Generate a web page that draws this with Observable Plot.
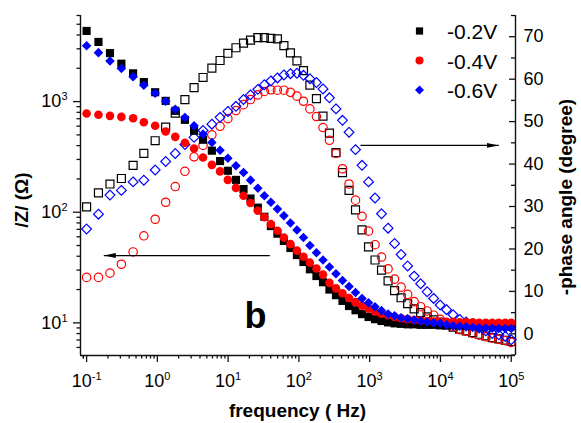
<!DOCTYPE html>
<html>
<head>
<meta charset="utf-8">
<script src="https://cdn.jsdelivr.net/npm/d3@7"></script>
<script src="https://cdn.jsdelivr.net/npm/@observablehq/plot@0.6"></script>
<style>
  body { margin: 0; background: #fff; }
  #chart { position: relative; width: 581px; height: 423px; font-family: "Liberation Sans", Arial, sans-serif; color: #000; }
  #chart svg { position: absolute; left: 0; top: 0; }
</style>
</head>
<body>
<div id="chart"></div>
<script>
// ---------- data ----------
const freq = [0.1, 0.147, 0.214, 0.31, 0.454, 0.644, 0.931, 1.31, 1.79, 2.45, 3.3, 4.42, 5.89, 7.69, 9.91,
  12.9, 16.5, 20.7, 26.3, 32.5, 40.2, 49.7, 61.4, 75.9, 93.8, 116, 143, 177, 219, 270, 334, 413, 511, 631,
  780, 964, 1190, 1470, 1820, 2250, 2780, 3440, 4250, 5250, 6490, 8020, 9910, 12200, 15100, 18700, 23100,
  28600, 35300, 43700, 54000, 66700, 82400, 100000];

const seriesNames = ["-0.2V", "-0.4V", "-0.6V"];
const seriesColors = ["#000000", "#ff0000", "#0000ff"];
const seriesSymbols = ["square", "circle", "diamond2"];

// |Z| (ohm), filled symbols, left axis
const zNeg02 = [4350, 3460, 2740, 2200, 1800, 1500, 1215, 1015, 825, 684, 545, 452, 360, 290, 237, 196, 162, 133,
  110, 91, 75, 64, 55, 47.5, 41, 35.5, 30.5, 26.5, 23.3, 20, 17.8, 15.8, 14.2, 13.0, 12.0, 11.3, 10.8, 10.4,
  10.1, 9.9, 9.8, 9.7, 9.7, 9.6, 9.6, 9.6, 9.5, 9.5, 9.5, 9.5, 9.4, 9.4, 9.4, 9.4, 9.3, 9.3, 9.3, 9.3];
const zNeg04 = [780, 760, 743, 727, 708, 650, 605, 536, 480, 425, 377, 312, 268, 234, 196, 166, 141, 121, 103,
  90, 78, 68, 59, 51.5, 45, 39.6, 35, 31, 27.3, 23, 20.5, 18.5, 16.8, 15.4, 14.3, 13.4, 12.7, 12.1, 11.7, 11.3,
  11.0, 10.8, 10.6, 10.5, 10.4, 10.3, 10.3, 10.2, 10.2, 10.1, 10.1, 10.1, 10.0, 10.0, 10.0, 10.0, 10.0, 10.0];
const zNeg06 = [3200, 2770, 2330, 1990, 1680, 1405, 1190, 1008, 854, 717, 604, 508, 427, 364, 308, 263, 229, 195,
  165, 141, 123, 107, 93, 80, 69, 59, 50, 43, 37, 32, 27.8, 24.1, 21.3, 18.8, 16.6, 15.2, 14.0, 12.9, 12.0,
  11.6, 11.1, 10.9, 10.6, 10.4, 10.2, 10.0, 9.9, 9.6, 9.4, 9.3, 9.2, 9.1, 9.05, 9.0, 8.95, 8.9, 8.9, 8.9];

// -phase angle (degree), open symbols, right axis
const phaseNeg02 = [29.9, 33.2, 35.3, 36.6, 39.7, 42.5, 45.5, 48.7, 52.0, 55.2, 58.0, 60.4, 62.6, 64.4, 66.1,
  67.4, 68.5, 69.2, 69.8, 69.8, 69.6, 69.5, 67.9, 66.2, 64.3, 62.0, 58.6, 55.4, 51.3, 47.3, 42.7, 38.0, 33.8,
  29.2, 24.5, 20.5, 17.4, 15.0, 12.5, 10.2, 8.5, 7.1, 5.9, 5.0, 4.0, 3.3, 2.7, 2.1, 1.6, 1.1, 0.7, 0.3, -0.1,
  -0.5, -0.9, -1.2, -1.5, -1.8];
const phaseNeg04 = [13.3, 13.3, 14.3, 16.4, 19.3, 23.1, 27.0, 31.0, 34.7, 38.3, 41.7, 44.4, 46.9, 48.9, 50.7,
  52.6, 54.0, 55.2, 56.3, 57.1, 57.5, 57.4, 57.4, 56.9, 56.0, 54.8, 53.0, 51.2, 48.6, 45.6, 42.5, 38.9, 35.3,
  31.5, 27.7, 24.2, 21.0, 18.1, 15.3, 12.9, 11.0, 9.3, 7.6, 6.4, 5.4, 4.4, 3.4, 2.4, 1.7, 1.0, 0.6, 0.1, -0.3,
  -0.7, -1.0, -1.3, -1.6, -2.0];
const phaseNeg06 = [24.7, 28.2, 32.7, 33.8, 35.8, 36.2, 38.6, 40.6, 42.5, 44.6, 46.3, 47.9, 49.4, 51.0, 52.4,
  53.6, 55.2, 56.3, 57.6, 58.7, 59.6, 60.3, 61.0, 61.3, 61.4, 60.9, 60.1, 59.2, 57.7, 55.6, 53.0, 50.3, 47.5,
  43.4, 39.7, 35.8, 32.0, 28.3, 24.9, 21.3, 18.7, 16.0, 13.6, 11.8, 9.9, 8.35, 6.8, 5.7, 4.5, 3.4, 2.8, 2.1,
  1.4, 0.7, 0.1, -0.2, -0.6, -1.4];

// axes
const xDomain = [0.082, 115000];
const zDomain = [5.07, 6000];
const phaseDomain = [-5.1, 75];
const xTicksMajor = [0.1, 1, 10, 100, 1000, 10000, 100000];
const zTicksMajor = [10, 100, 1000];
const phaseTicksMajor = [0, 10, 20, 30, 40, 50, 60, 70];
const phaseTicksMinor = [-5, 5, 15, 25, 35, 45, 55, 65, 75];
const xTitle = "frequency ( Hz)";
const zTitle = "/Z/ (\u03A9)";
const phaseTitle = "-phase angle (degree)";
const panelLetter = "b";

// annotation arrows (data units)
const arrowZ = [{f1: 38.8, f2: 0.175, v: 40.6}];
const arrowPhase = [{f1: 741, f2: 66800, v: 44.4}];
const letterPos = [{f: 24.4, v: 9.08, t: panelLetter}];

(function () {
// minor log ticks
function logMinor(lo, hi) {
  const out = [];
  for (let e = -2; e <= 5; e++) for (let k = 2; k <= 9; k++) {
    const v = k * Math.pow(10, e);
    if (v >= lo && v <= hi) out.push(v);
  }
  return out;
}
const xTicksMinor = logMinor(xDomain[0], xDomain[1]).concat([0.09]);
const zTicksMinor = logMinor(zDomain[0], zDomain[1] * 1.001);

// ---------- layout ----------
const W = 581, H = 423;
const M = {marginLeft: 80, marginRight: 66, marginTop: 15, marginBottom: 68};
const FONT = '"Liberation Sans", Arial, sans-serif';
const ink = "#111";

const rows = vals => freq.map((f, i) => ({f, v: vals[i]}));
const zSeries = [zNeg02, zNeg04, zNeg06];
const phaseSeries = [phaseNeg02, phaseNeg04, phaseNeg06];
const filledR = [4.6, 4.3, 4.3];
const openR = [4.5, 4.2, 4.4];
const pow10 = d => `10^${Math.round(Math.log10(d))}`;

// bottom layer: phase (linear right axis), open symbols
const phasePlot = Plot.plot({
  width: W, height: H, ...M,
  style: {background: "transparent", fontFamily: FONT, fontSize: "18px", color: ink},
  x: {type: "log", domain: xDomain, axis: null},
  y: {domain: phaseDomain, label: null},
  marks: [
    Plot.ruleX([xDomain[1]], {stroke: ink, strokeWidth: 1.4}),
    Plot.tickY(phaseTicksMajor, {y: d => d, insetLeft: 429, stroke: ink, strokeWidth: 1.3}),
    Plot.tickY(phaseTicksMinor, {y: d => d, insetLeft: 431, stroke: ink, strokeWidth: 1.3}),
    Plot.axisY(phaseTicksMajor, {anchor: "right", tickSize: 0, tickPadding: 8, label: null, fontSize: 18, fill: "#000"}),
    ...phaseSeries.map((s, i) => Plot.dot(rows(s), {
      x: "f", y: "v", symbol: seriesSymbols[i], r: openR[i], fill: "none",
      stroke: seriesColors[i], strokeWidth: 1.2
    })),
    Plot.link(arrowPhase, {x1: "f1", x2: "f2", y1: "v", y2: "v", stroke: "#000", strokeWidth: 1.2})
  ]
});

// top layer: |Z| (log left axis), filled symbols, x axis
const zPlot = Plot.plot({
  width: W, height: H, ...M,
  style: {background: "transparent", fontFamily: FONT, fontSize: "18px", color: ink},
  x: {type: "log", domain: xDomain, label: null},
  y: {type: "log", domain: zDomain, label: null},
  marks: [
    Plot.ruleX([xDomain[0]], {stroke: ink, strokeWidth: 1.4}),
    Plot.ruleY([zDomain[0]], {stroke: ink, strokeWidth: 1.4}),
    Plot.axisX(xTicksMajor, {tickSize: 7, tickPadding: 12, tickFormat: pow10, label: null, fontSize: 18, strokeWidth: 1.3, fill: "#000"}),
    Plot.axisX(xTicksMinor, {tickSize: 3.5, fill: "none", label: null, strokeWidth: 1.3}),
    Plot.axisY(zTicksMajor, {anchor: "left", tickSize: 7, tickPadding: 6, tickFormat: pow10, label: null, fontSize: 18, strokeWidth: 1.3, fill: "#000"}),
    Plot.axisY(zTicksMinor, {anchor: "left", tickSize: 3.5, fill: "none", label: null, strokeWidth: 1.3}),
    ...zSeries.map((s, i) => Plot.dot(rows(s), {
      x: "f", y: "v", symbol: seriesSymbols[i], r: filledR[i], fill: seriesColors[i], stroke: "none"
    })),
    Plot.link(arrowZ, {x1: "f1", x2: "f2", y1: "v", y2: "v", stroke: "#000", strokeWidth: 1.2}),
    Plot.text(letterPos, {x: "f", y: "v", text: "t", fontSize: 36, fontWeight: "bold", textAnchor: "middle", lineAnchor: "bottom", fill: "#000"})
  ]
});

const chart = document.getElementById("chart");
chart.appendChild(phasePlot);
chart.appendChild(zPlot);

const svgns = "http://www.w3.org/2000/svg";

// superscript exponents in tick labels
function supers(svg) {
  svg.querySelectorAll("text").forEach(t => {
    const m = /^10\^(-?\d+)$/.exec(t.textContent);
    if (!m) return;
    t.textContent = "10";
    const s = document.createElementNS(svgns, "tspan");
    s.setAttribute("font-size", "11");
    s.setAttribute("dy", "-7");
    s.textContent = m[1];
    t.appendChild(s);
  });
}
supers(zPlot);

// filled arrowheads
function arrowHeads(svg, id) {
  const s = d3.select(svg);
  const m = s.append("defs").append("marker")
    .attr("id", id).attr("markerUnits", "userSpaceOnUse")
    .attr("viewBox", "0 0 12 6").attr("refX", 12).attr("refY", 3)
    .attr("markerWidth", 12).attr("markerHeight", 6).attr("orient", "auto");
  m.append("path").attr("d", "M0,0.5L12,3L0,5.5Z").attr("fill", "#000");
  s.selectAll("g[aria-label='link'] path").attr("marker-end", `url(#${id})`);
}
arrowHeads(phasePlot, "ahP");
arrowHeads(zPlot, "ahZ");

// titles and legend
const topSel = d3.select(zPlot);
topSel.append("text").attr("x", 297.5).attr("y", 417).attr("text-anchor", "middle")
  .attr("font-size", 19).attr("font-weight", "bold").attr("fill", "#000").text(xTitle);
topSel.append("text").attr("transform", "translate(28,200) rotate(-90)").attr("text-anchor", "middle")
  .attr("font-size", 19).attr("font-weight", "bold").attr("fill", "#000").text(zTitle);
topSel.append("text").attr("transform", "translate(572,197) rotate(-90)").attr("text-anchor", "middle")
  .attr("font-size", 19).attr("font-weight", "bold").attr("fill", "#000").text(phaseTitle);

const legendSym = [d3.symbolSquare, d3.symbolCircle, d3.symbolDiamond2];
const legendSize = [52, 50, 52];
const leg = topSel.append("g").attr("aria-label", "legend");
seriesNames.forEach((name, i) => {
  const cy = 31 + i * 29.5;
  leg.append("path").attr("transform", `translate(419.5,${cy})`)
    .attr("d", d3.symbol(legendSym[i], legendSize[i])()).attr("fill", seriesColors[i]);
  leg.append("text").attr("x", 447).attr("y", cy + 8).attr("text-anchor", "start")
    .attr("font-size", 21).attr("fill", "#000").text(name);
});
})();
</script>
</body>
</html>
